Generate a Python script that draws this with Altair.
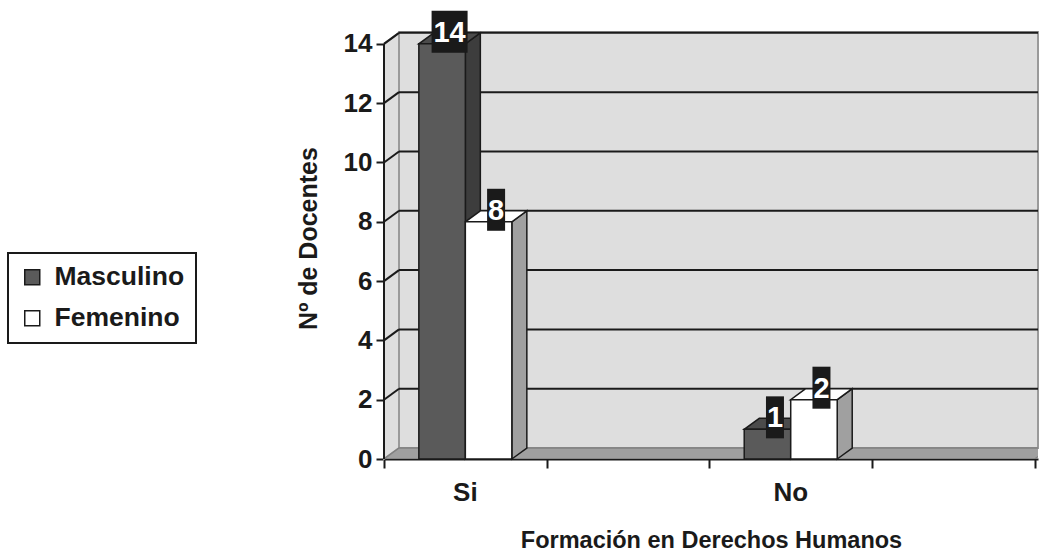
import altair as alt
import pandas as pd

# ---------------- data ----------------
categories = ["Si", "No"]
series = ["Masculino", "Femenino"]
masculino = [14, 1]
femenino = [8, 2]
y_ticks = [0, 2, 4, 6, 8, 10, 12, 14]

# ---------------- style / layout constants ----------------
FONT = "Liberation Sans"
INK = "#1a1a1a"
W, H = 654, 427
X_MAX, Y_MAX = 4.02, 14.4          # 4 category slots on the axis, Si and No in slots 0 and 2
N_SLOTS = 4
PX_X, PX_Y = W / X_MAX, H / Y_MAX
DX, DY = 15 / PX_X, 11 / PX_Y      # 3-D depth offset
BW = 46.5 / PX_X                   # bar width
WALL = "#dedede"
FLOOR = "#a0a0a0"
EDGE = "#9a9a9a"
FRONT = {"Masculino": "#5a5a5a", "Femenino": "#ffffff"}
SIDE = {"Masculino": "#3d3d3d", "Femenino": "#a0a0a0"}
TOP = {"Masculino": "#4b4b4b", "Femenino": "#ffffff"}

# ---------------- derived tables ----------------
front_rows, side_rows, top_rows, lab_rows = [], [], [], []
values = {"Masculino": masculino, "Femenino": femenino}
for i, cat in enumerate(categories):
    slot = 2 * i
    for j, s in enumerate(series):
        v = values[s][i]
        x0 = slot + 0.5 - BW + j * BW
        x1 = x0 + BW
        bid = f"{cat}-{s}"
        front_rows.append(dict(series=s, cat=cat, x0=x0, x1=x1, v=v))
        side_rows += [dict(id=bid, c=SIDE[s], x=x1, y=0, y2=v),
                      dict(id=bid, c=SIDE[s], x=x1 + DX, y=DY, y2=v + DY)]
        top_rows += [dict(id=bid, c=TOP[s], y=v, x=x0, x2=x1),
                     dict(id=bid, c=TOP[s], y=v + DY, x=x0 + DX, x2=x1 + DX)]
        cx = (x0 + x1) / 2 + DX / 2
        cy = v + DY / 2 + 6.5 / PX_Y
        hw = len(str(v)) * 9 / PX_X
        hh = 21 / PX_Y
        lab_rows.append(dict(t=str(v), cx=cx, cy=cy, bx0=cx - hw, bx1=cx + hw,
                             by0=cy - hh, by1=cy + hh))

front = pd.DataFrame(front_rows)
side = pd.DataFrame(side_rows)
top = pd.DataFrame(top_rows)
labs = pd.DataFrame(lab_rows)

xs = alt.Scale(domain=[0, X_MAX], nice=False, zero=False)
ys = alt.Scale(domain=[0, Y_MAX], nice=False, zero=False)

# ---------------- walls / floor / grid ----------------
back_wall = alt.Chart(pd.DataFrame([dict(x=DX, x2=X_MAX, y=DY, y2=Y_MAX)])).mark_rect(
    fill=WALL, stroke=EDGE, strokeWidth=2).encode(
    x=alt.X("x:Q", scale=xs, axis=alt.Axis(
        values=list(range(N_SLOTS + 1)), labels=False, grid=False, tickSize=9,
        tickColor=INK, tickWidth=2, domainColor=INK, domainWidth=2,
        title="Formación en Derechos Humanos", titleFont=FONT, titleFontSize=23.5,
        titleFontWeight="bold", titleColor=INK, titlePadding=59)),
    x2="x2:Q",
    y=alt.Y("y:Q", scale=ys, axis=alt.Axis(
        values=y_ticks, grid=False, domain=False, tickSize=8, tickColor=INK,
        tickWidth=2, labelFont=FONT, labelFontSize=26, labelFontWeight="bold",
        labelColor=INK, labelPadding=4, title="Nº de Docentes", titleFont=FONT,
        titleFontSize=25, titleFontWeight="bold", titleColor=INK, titlePadding=22,
        titleY=206)),
    y2="y2:Q")

side_wall = alt.Chart(pd.DataFrame([dict(x=0, y=0, y2=y_ticks[-1]),
                                    dict(x=DX, y=DY, y2=y_ticks[-1] + DY)])).mark_area(
    fill=WALL, stroke=EDGE, strokeWidth=2, orient="vertical").encode(
    x=alt.X("x:Q", scale=xs), y=alt.Y("y:Q", scale=ys), y2="y2:Q")

floor = alt.Chart(pd.DataFrame([dict(y=0, x=0, x2=N_SLOTS),
                                dict(y=DY, x=DX, x2=N_SLOTS + DX)])).mark_area(
    fill=FLOOR, stroke="#808080", strokeWidth=1.5, orient="horizontal", clip=True).encode(
    y=alt.Y("y:Q", scale=ys), x=alt.X("x:Q", scale=xs), x2="x2:Q")

grid_df = pd.DataFrame([dict(v=v, vb=v + DY, xa=0, xb=DX, xe=X_MAX) for v in y_ticks[1:]])
back_grid = alt.Chart(grid_df).mark_rule(color=INK, strokeWidth=2).encode(
    x=alt.X("xb:Q", scale=xs), x2="xe:Q", y=alt.Y("vb:Q", scale=ys))
side_grid = alt.Chart(grid_df).mark_rule(color=INK, strokeWidth=2).encode(
    x=alt.X("xa:Q", scale=xs), x2="xb:Q", y=alt.Y("v:Q", scale=ys), y2="vb:Q")
y_line = alt.Chart(pd.DataFrame([dict(x=0, y=0, y2=y_ticks[-1])])).mark_rule(
    color=INK, strokeWidth=2).encode(x=alt.X("x:Q", scale=xs), y=alt.Y("y:Q", scale=ys), y2="y2:Q")

# ---------------- bars ----------------
sides = alt.Chart(side).mark_area(orient="vertical", stroke=INK, strokeWidth=1.5).encode(
    x=alt.X("x:Q", scale=xs), y=alt.Y("y:Q", scale=ys), y2="y2:Q",
    detail="id:N", fill=alt.Fill("c:N", scale=None))
tops = alt.Chart(top).mark_area(orient="horizontal", stroke=INK, strokeWidth=1.5).encode(
    y=alt.Y("y:Q", scale=ys), x=alt.X("x:Q", scale=xs), x2="x2:Q",
    detail="id:N", fill=alt.Fill("c:N", scale=None))
fronts = alt.Chart(front).mark_rect(stroke=INK, strokeWidth=1.5).encode(
    x=alt.X("x0:Q", scale=xs), x2="x1:Q", y=alt.Y("v:Q", scale=ys), y2=alt.datum(0),
    color=alt.Color("series:N", scale=alt.Scale(domain=series, range=[FRONT[s] for s in series]),
                    legend=alt.Legend(title=None, orient="none", legendX=-376, legendY=221,
                                      symbolType="square", symbolSize=225,
                                      symbolStrokeColor=INK, symbolStrokeWidth=1.5,
                                      symbolOpacity=1, labelFont=FONT, labelFontSize=26.5,
                                      labelFontWeight="bold", labelColor=INK,
                                      labelOffset=9, strokeColor=INK, fillColor="white",
                                      padding=11, rowPadding=14)))

# ---------------- data labels ----------------
lab_box = alt.Chart(labs).mark_rect(fill=INK).encode(
    x=alt.X("bx0:Q", scale=xs), x2="bx1:Q", y=alt.Y("by0:Q", scale=ys), y2="by1:Q")
lab_txt = alt.Chart(labs).mark_text(font=FONT, fontSize=29, fontWeight="bold", color="white",
                                    baseline="middle", dy=1).encode(
    x=alt.X("cx:Q", scale=xs), y=alt.Y("cy:Q", scale=ys), text="t:N")

# ---------------- category labels ----------------
cat_df = pd.DataFrame(dict(cat=categories, xc=[2 * i + 0.5 for i in range(len(categories))],
                           yc=[-34 / PX_Y] * len(categories)))
cat_txt = alt.Chart(cat_df).mark_text(font=FONT, fontSize=26, fontWeight="bold", color=INK,
                                      baseline="middle").encode(
    x=alt.X("xc:Q", scale=xs), y=alt.Y("yc:Q", scale=ys), text="cat:N")

chart = alt.layer(back_wall, side_wall, floor, back_grid, side_grid, y_line,
                  sides, tops, fronts, lab_box, lab_txt, cat_txt).properties(
    width=W, height=H, autosize=alt.AutoSizeParams(type="none"),
    padding={"left": 384, "top": 32, "right": 1039 - 384 - W, "bottom": 554 - 32 - H},
    background="white").configure_view(stroke=None).configure_legend(strokeWidth=2)

chart.save("out.html", embed_options={"renderer": "svg", "actions": False})
